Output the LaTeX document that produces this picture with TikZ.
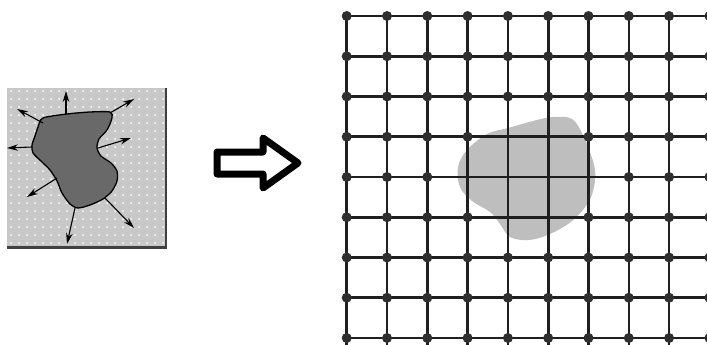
\documentclass[tikz,border=0pt]{standalone}
\usepackage{tikz}
\usetikzlibrary{arrows.meta}
\definecolor{panelgray}{RGB}{200,200,200}
\definecolor{blobgray}{RGB}{105,105,105}
\definecolor{spotgray}{RGB}{190,190,190}

\begin{document}
\begin{tikzpicture}[x=1pt, y=-1pt, >=Stealth]
    \tikzstyle{gridline} = [line width=2.6pt, black!88]
    \tikzstyle{gridnode} = [circle, fill=black!82, inner sep=0pt, minimum size=10pt]
    \tikzstyle{normal} = [line width=1.1pt, black, -{Stealth[length=11pt, width=6.5pt]}]
    \tikzstyle{bigarrow} = [draw=black, line width=7pt, fill=white, line join=round]

    \useasboundingbox (0,0) rectangle (707,345);
    \clip (0,0) rectangle (707,345);

    % dotted panel with the body
    \fill[panelgray] (7,88) rectangle (166,247);
    \foreach \x in {11,19,...,163}
        \foreach \y in {91,99,...,244}
            \fill[white] (\x,\y) circle (1.0);
    \draw[black!75, line width=2.2pt] (166,88) -- (166,247.5) -- (7,247.5);

    \draw[black, line width=1.3pt, fill=blobgray] plot[smooth cycle, tension=0.45] coordinates {
        (43,118) (67,114) (90,112) (110,112) (112,118) (107,130) (99,139) (97,148)
        (101,156) (111,163) (117,171) (117,181) (112,191) (103,199) (90,205) (78,208)
        (70,204) (62,193) (57,181) (50,170) (42,162) (33,153) (32,145) (35,136) (38,127)};

    % outward normals
    \foreach \sx/\sy/\ex/\ey in {66/114/66/91, 43/123/17/109, 110/113/134/99,
                                 98/148/131/138, 32/147/7/148, 57/178/27/197,
                                 75/208/67/244, 105/198/134/228}
        \draw[normal] (\sx,\sy) -- (\ex,\ey);

    % transition arrow
    \draw[bigarrow] (217,152) -- (263,152) -- (263,138) -- (298,163) -- (263,188)
        -- (263,174) -- (217,174) -- cycle;

    % discretised domain
    \fill[spotgray] plot[smooth cycle, tension=0.6] coordinates {
        (553,117) (572,119) (583,135) (590,152) (595,170) (594,187) (588,203) (572,221)
        (550,234) (529,240) (510,237) (500,224) (490,212) (472,201) (460,187) (458,167)
        (467,150) (487,134) (508,128) (533,121)};

    \foreach \i in {0,...,9}
        \foreach \j in {0,...,8}
            \coordinate (p-\i-\j) at (346.7+40.3*\i, 16+40.25*\j);

    \foreach \j in {0,...,8}
        \draw[gridline] (p-0-\j) -- (p-9-\j);
    \foreach \i in {0,...,9}
        \draw[gridline] (p-\i-0) -- (p-\i-8) -- ++(0,20);

    % nodes covered by the body are dropped
    \foreach \i in {0,...,9}
        \foreach \j in {0,...,8} {
            \pgfmathtruncatemacro\hide{abs(2*\i-9)+2*abs(\j-4) <= 3}
            \ifnum\hide=0
                \node[gridnode] (n-\i-\j) at (p-\i-\j) {};
            \fi
        }
\end{tikzpicture}
\end{document}
